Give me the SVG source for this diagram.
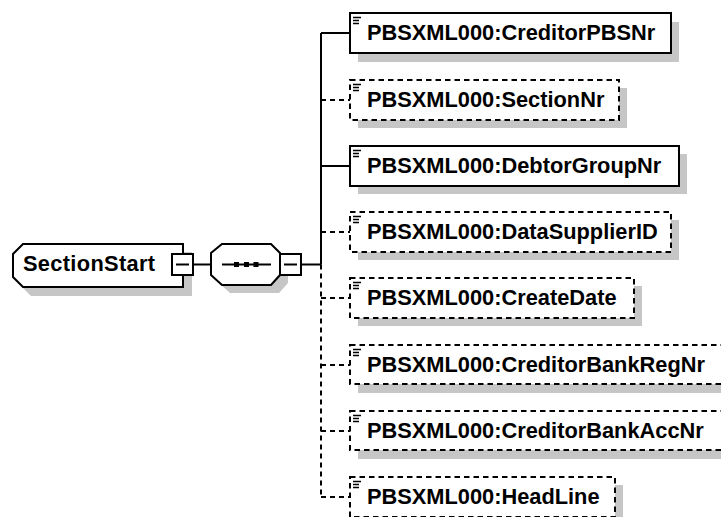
<svg xmlns="http://www.w3.org/2000/svg" width="721" height="517" viewBox="0 0 721 517">
<style>
.bx{fill:#fff;stroke:#000;stroke-width:2}
.opt{stroke-dasharray:5.5,4}
.sh{fill:#c6c6c6;stroke:none}
.t{font-family:"Liberation Sans",Arial,sans-serif;font-weight:bold;font-size:21.8px;fill:#000}
.ic{stroke:#000;stroke-width:1.4}
.ln{stroke:#000;stroke-width:2;fill:none}
.dl{stroke:#000;stroke-width:2;fill:none;stroke-dasharray:5,4}
</style>
<defs>
<g id="icon"><path class="ic" d="M3 4.5h8M3 7.5h6M3 10.5h6"/></g>
<g id="minus"><rect x="0" y="0" width="21" height="21" fill="#fff" stroke="#000" stroke-width="2"/><path d="M4 10.5h13" stroke="#000" stroke-width="2"/></g>
</defs>
<g id="connectors">
<path class="ln" d="M193 264.5H211M301 264.5H321M321 33V264.5M321 33H350M321 166H350"/>
<path class="dl" d="M321 264.5V497M321 100H350M321 232H350M321 298H350M321 365H350M321 431H350M321 497H350"/>
</g>
<g id="SectionStart">
<polygon class="sh" points="31,252 192,252 192,296 31,296 21,286 21,262"/>
<polygon class="bx" points="23,244 183,244 183,287 23,287 13,277 13,254"/>
<text class="t" x="23" y="271" textLength="132">SectionStart</text>
<use href="#minus" x="172" y="254"/>
</g>
<g id="sequence">
<polygon class="sh" points="230,252 279,252 288,261 288,283 279,293 230,293 219,283 219,261"/>
<polygon class="bx" points="222,244 271,244 280,253 280,275 271,285 222,285 211,275 211,253"/>
<path d="M222 264.5H271" stroke="#000" stroke-width="2"/>
<rect x="234" y="262" width="5" height="5"/>
<rect x="244" y="262" width="5" height="5"/>
<rect x="253.5" y="262" width="5" height="5"/>
<use href="#minus" x="280" y="254"/>
</g>
<g id="CreditorPBSNr">
<rect class="sh" x="358" y="22" width="321" height="40"/>
<rect class="bx" x="350" y="13" width="321" height="40"/>
<use href="#icon" x="350" y="13"/>
<text class="t" x="367" y="40">PBSXML000:CreditorPBSNr</text>
</g>
<g id="SectionNr">
<rect class="sh" x="358" y="88" width="269" height="40"/>
<rect class="bx opt" x="350" y="80" width="269" height="40"/>
<use href="#icon" x="350" y="80"/>
<text class="t" x="367" y="107">PBSXML000:SectionNr</text>
</g>
<g id="DebtorGroupNr">
<rect class="sh" x="358" y="154" width="329" height="40"/>
<rect class="bx" x="350" y="146" width="329" height="40"/>
<use href="#icon" x="350" y="146"/>
<text class="t" x="367" y="173">PBSXML000:DebtorGroupNr</text>
</g>
<g id="DataSupplierID">
<rect class="sh" x="358" y="220" width="321" height="40"/>
<rect class="bx opt" x="350" y="212" width="321" height="40"/>
<use href="#icon" x="350" y="212"/>
<text class="t" x="367" y="239">PBSXML000:DataSupplierID</text>
</g>
<g id="CreateDate">
<rect class="sh" x="358" y="286" width="284" height="40"/>
<rect class="bx opt" x="350" y="278" width="284" height="40"/>
<use href="#icon" x="350" y="278"/>
<text class="t" x="367" y="305">PBSXML000:CreateDate</text>
</g>
<g id="CreditorBankRegNr">
<rect class="sh" x="358" y="353" width="375" height="40"/>
<rect class="bx opt" x="350" y="345" width="375" height="39"/>
<use href="#icon" x="350" y="345"/>
<text class="t" x="367" y="372">PBSXML000:CreditorBankRegNr</text>
</g>
<g id="CreditorBankAccNr">
<rect class="sh" x="358" y="419" width="375" height="40"/>
<rect class="bx opt" x="350" y="411" width="375" height="39"/>
<use href="#icon" x="350" y="411"/>
<text class="t" x="367" y="438">PBSXML000:CreditorBankAccNr</text>
</g>
<g id="HeadLine">
<rect class="sh" x="358" y="485" width="265" height="40"/>
<rect class="bx opt" x="350" y="477" width="265" height="40"/>
<use href="#icon" x="350" y="477"/>
<text class="t" x="367" y="504">PBSXML000:HeadLine</text>
</g>
</svg>
